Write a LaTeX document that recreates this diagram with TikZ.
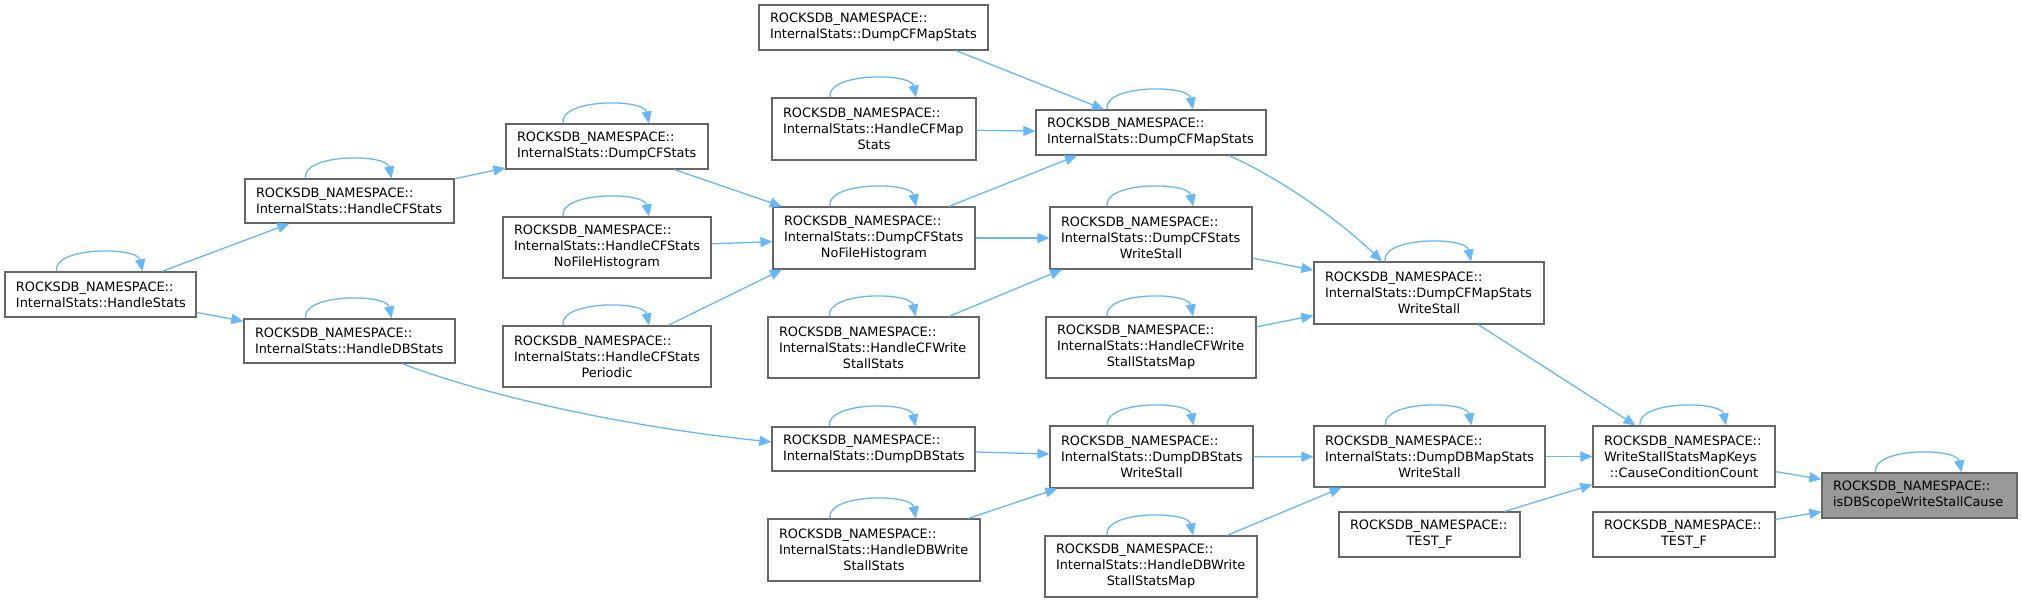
\documentclass[tikz,border=0pt]{standalone}
\usepackage{fontspec}
\setmainfont{DejaVu Sans}
\usetikzlibrary{arrows.meta,calc}
\definecolor{edgec}{HTML}{63B8FF}
\definecolor{boxc}{HTML}{666666}
\definecolor{hilite}{HTML}{999999}
\tikzset{
  dbox/.style={draw=boxc, line width=1.2pt, fill=white, inner xsep=11pt, inner ysep=0pt,
    align=left, font=\fontsize{12.9}{16}\selectfont, anchor=center},
  edge/.style={draw=edgec, line width=1.3pt, -{Triangle[length=12pt,width=10pt]}},
}
\newcommand\ctr[1]{\makebox[\linewidth][c]{#1}}
\newcommand\dbx[7]{\node[dbox,text width=#4pt,minimum height=#5pt,#7] (#1) at (#2,#3) {#6};}
\newcommand\selfloop[1]{\draw[edge] ($(#1.north)+(-44,0)$) .. controls +(-4,-25) and +(-5,-25) .. ($(#1.north)+(42,0)$);}
\newcommand\RN{ROCKSDB\_NAMESPACE::}
\begin{document}
\begin{tikzpicture}[x=1pt,y=-1pt]
\fill[white] (0,0) rectangle (2022,603);
\useasboundingbox (0,0) rectangle (2022,603);
% nodes
\dbx{HS}{100.5}{294.5}{169}{45}{\RN\\InternalStats::HandleStats}{}
\dbx{HCF}{349.5}{201}{187}{44}{\RN\\InternalStats::HandleCFStats}{}
\dbx{HDB}{349.5}{341}{189}{44}{\RN\\InternalStats::HandleDBStats}{}
\dbx{DCF}{607}{146.5}{180}{45}{\RN\\InternalStats::DumpCFStats}{}
\dbx{HCFNFH}{607}{247.5}{186}{61}{\RN\\InternalStats::HandleCFStats\\\ctr{NoFileHistogram}}{}
\dbx{HCFP}{607}{356.5}{186}{61}{\RN\\InternalStats::HandleCFStats\\\ctr{Periodic}}{}
\dbx{DCFMSt}{873.5}{27.5}{207}{45}{\RN\\InternalStats::DumpCFMapStats}{}
\dbx{HCFMap}{874}{129}{182}{62}{\RN\\InternalStats::HandleCFMap\\\ctr{Stats}}{}
\dbx{DCFNFH}{874}{238}{180}{62}{\RN\\InternalStats::DumpCFStats\\\ctr{NoFileHistogram}}{}
\dbx{HCFWSS}{873.5}{347.5}{189}{61}{\RN\\InternalStats::HandleCFWrite\\\ctr{StallStats}}{}
\dbx{DDB}{873.5}{449}{181}{44}{\RN\\InternalStats::DumpDBStats}{}
\dbx{HDBWSS}{874}{550}{190}{62}{\RN\\InternalStats::HandleDBWrite\\\ctr{StallStats}}{}
\dbx{DCFMS}{1151}{132.5}{208}{45}{\RN\\InternalStats::DumpCFMapStats}{}
\dbx{DCFWS}{1151}{238}{180}{62}{\RN\\InternalStats::DumpCFStats\\\ctr{WriteStall}}{}
\dbx{HCFWSSM}{1151}{347.5}{188}{61}{\RN\\InternalStats::HandleCFWrite\\\ctr{StallStatsMap}}{}
\dbx{DDBWS}{1151.5}{457}{181}{62}{\RN\\InternalStats::DumpDBStats\\\ctr{WriteStall}}{}
\dbx{HDBWSSM}{1151}{566.5}{190}{61}{\RN\\InternalStats::HandleDBWrite\\\ctr{StallStatsMap}}{}
\dbx{DCFMSWS}{1429}{293}{208}{62}{\RN\\InternalStats::DumpCFMapStats\\\ctr{WriteStall}}{}
\dbx{DDBMSWS}{1429.5}{456.5}{209}{61}{\RN\\InternalStats::DumpDBMapStats\\\ctr{WriteStall}}{}
\dbx{TESTFa}{1429.5}{534.5}{159}{45}{\RN\\\ctr{TEST\_F}}{}
\dbx{CCC}{1684}{456.5}{160}{61}{\RN\\WriteStallStatsMapKeys\\\ctr{::CauseConditionCount}}{}
\dbx{TESTFb}{1684}{534.5}{160}{45}{\RN\\\ctr{TEST\_F}}{}
\dbx{ISDB}{1919.5}{495.5}{173}{45}{\RN\\isDBScopeWriteStallCause}{fill=hilite}
% self loops
\foreach \n in {HS,HCF,HDB,DCF,HCFNFH,HCFP,HCFMap,DCFNFH,HCFWSS,DDB,HDBWSS,DCFMS,DCFWS,HCFWSSM,DDBWS,HDBWSSM,DCFMSWS,DDBMSWS,CCC,ISDB}
  {\selfloop{\n}}
% edges
\draw[edge] (HS) -- (HCF);
\draw[edge] (HS) -- (HDB);
\draw[edge] (HCF) -- (DCF);
\draw[edge] ($(HDB.south)+(52.5,0)$) .. controls +(98,37) and +(-132,-14) .. ($(DDB.west)+(0,-7)$);
\draw[edge] (DCF) -- (DCFNFH);
\draw[edge] (HCFNFH) -- (DCFNFH);
\draw[edge] ($(HCFP.north)+(61,0)$) -- ($(DCFNFH.south)+(-92,0)$);
\draw[edge] ($(DCFMSt.south)+(82.5,0)$) -- ($(DCFMS.north)+(-47,0)$);
\draw[edge] (HCFMap) -- (DCFMS);
\draw[edge] ($(DCFNFH.north)+(75,0)$) -- ($(DCFMS.south)+(-74,0)$);
\draw[edge] (DCFNFH) -- (DCFWS);
\draw[edge] ($(HCFWSS.north)+(75.5,0)$) -- ($(DCFWS.south)+(-89,0)$);
\draw[edge] ($(DCFMS.south)+(78,0)$) .. controls +(50,22) and +(-45,-43) .. ($(DCFMSWS.north)+(-47,0)$);
\draw[edge] (DCFWS) -- (DCFMSWS);
\draw[edge] (HCFWSSM) -- (DCFMSWS);
\draw[edge] (DCFMSWS) -- (CCC);
\draw[edge] (DDB) -- (DDBWS);
\draw[edge] (HDBWSS) -- (DDBWS);
\draw[edge] (DDBWS) -- (DDBMSWS);
\draw[edge] ($(HDBWSSM.north)+(76,0)$) -- ($(DDBMSWS.south)+(-88,0)$);
\draw[edge] (DDBMSWS) -- (CCC);
\draw[edge] (TESTFa) -- (CCC);
\draw[edge] (CCC) -- (ISDB);
\draw[edge] (TESTFb) -- (ISDB);
\end{tikzpicture}
\end{document}
